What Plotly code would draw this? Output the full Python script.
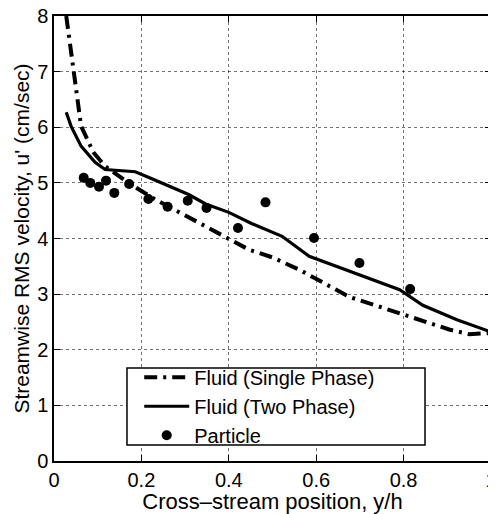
import plotly.graph_objects as go

x_single = [0.028, 0.039, 0.062, 0.09, 0.117, 0.17, 0.232, 0.33, 0.393, 0.446, 0.5, 0.561, 0.676, 0.798, 0.906, 0.95, 1.0]
y_single = [8.0, 7.4, 6.02, 5.55, 5.3, 5.0, 4.7, 4.29, 4.02, 3.8, 3.66, 3.44, 2.95, 2.63, 2.36, 2.28, 2.3]

x_two = [0.028, 0.039, 0.062, 0.094, 0.117, 0.186, 0.216, 0.269, 0.308, 0.347, 0.4, 0.452, 0.522, 0.584, 0.699, 0.791, 0.844, 0.922, 1.0]
y_two = [6.27, 6.02, 5.66, 5.37, 5.24, 5.2, 5.1, 4.92, 4.79, 4.62, 4.47, 4.27, 4.04, 3.68, 3.35, 3.08, 2.8, 2.54, 2.32]

x_part = [0.068, 0.083, 0.103, 0.119, 0.138, 0.172, 0.216, 0.26, 0.306, 0.349, 0.421, 0.484, 0.595, 0.699, 0.815]
y_part = [5.09, 5.0, 4.93, 5.04, 4.82, 4.98, 4.71, 4.57, 4.68, 4.55, 4.19, 4.65, 4.01, 3.56, 3.09]

x_ticks = [0, 0.2, 0.4, 0.6, 0.8, 1]
x_tick_labels = ["0", "0.2", "0.4", "0.6", "0.8", "1"]
y_ticks = [0, 1, 2, 3, 4, 5, 6, 7, 8]

fig = go.Figure()
fig.add_trace(go.Scatter(x=x_single, y=y_single, mode="lines", name="Fluid (Single Phase)",
                         line=dict(color="black", width=4, dash="13px,6px,3px,6px")))
fig.add_trace(go.Scatter(x=x_two, y=y_two, mode="lines", name="Fluid (Two Phase)",
                         line=dict(color="black", width=3.2)))
fig.add_trace(go.Scatter(x=x_part, y=y_part, mode="markers", name="Particle",
                         marker=dict(color="black", size=10, symbol="circle")))

font = "Liberation Sans, Arial, Helvetica, sans-serif"
axis_common = dict(showline=True, linecolor="black", linewidth=1.5, mirror="ticks",
                   ticks="inside", ticklen=6, tickcolor="black",
                   showgrid=True, gridcolor="rgba(0,0,0,0.55)", griddash="dot", gridwidth=1,
                   zeroline=False, automargin=False, ticklabeloverflow="allow",
                   tickfont=dict(family=font, size=20, color="black"))

# legend frame (opaque white box with black border, as in the reference)
fig.add_shape(type="rect", xref="paper", yref="paper",
              x0=0.167, x1=0.849, y0=0.036, y1=0.209,
              fillcolor="white", line=dict(color="black", width=1.5), layer="above")

fig.update_layout(
    width=488, height=506,
    margin=dict(l=46, r=5, t=8, b=53, autoexpand=False),
    paper_bgcolor="white", plot_bgcolor="white",
    font=dict(family=font, color="black"),
    showlegend=True,
    legend=dict(x=0.195, y=0.123, xanchor="left", yanchor="middle",
                bgcolor="rgba(0,0,0,0)", borderwidth=0,
                font=dict(family=font, size=20, color="black"),
                itemwidth=45, tracegroupgap=0),
)
fig.update_xaxes(range=[0, 1], tickvals=x_ticks, ticktext=x_tick_labels,
                 title=dict(text="Cross\u2013stream position, y/h", font=dict(family=font, size=22), standoff=1),
                 **axis_common)
fig.update_yaxes(range=[0, 8], tickvals=y_ticks,
                 title=dict(text="Streamwise RMS velocity, u' (cm/sec)", font=dict(family=font, size=21), standoff=2),
                 **axis_common)

fig.write_html("out.html")
